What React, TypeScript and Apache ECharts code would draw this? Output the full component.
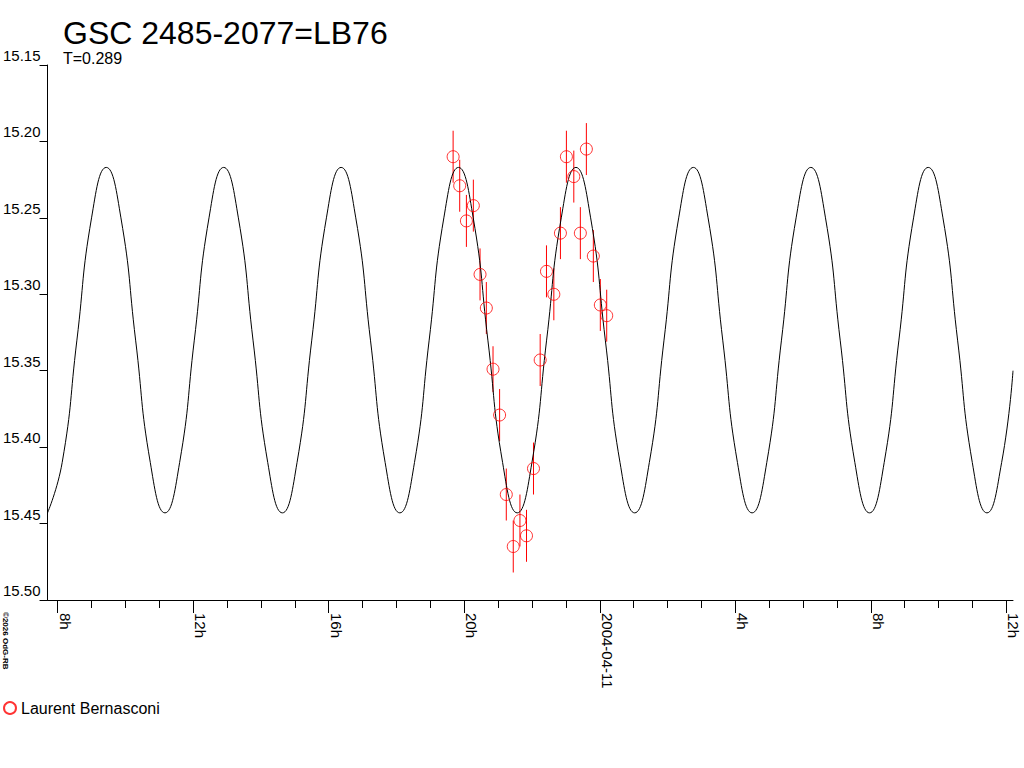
import React, { useEffect, useRef } from "react";
import * as echarts from "echarts";

// Model light curve (hours since 2004-04-10 00:00, magnitude)
const curveHours = [
  7.625, 8.059, 8.494, 8.928, 9.363, 9.797, 10.232, 10.666,
  11.101, 11.535, 11.969, 12.404, 12.838, 13.273, 13.707, 14.142,
  14.576, 15.010, 15.445, 15.879, 16.314, 16.748, 17.183, 17.617,
  18.052, 18.486, 18.920, 19.355, 19.789, 20.224, 20.658, 21.093,
  21.527, 21.962, 22.396, 22.830, 23.265, 23.699, 24.134, 24.568,
  25.003, 25.437, 25.871, 26.306, 26.740, 27.175, 27.609, 28.044,
  28.478, 28.913, 29.347, 29.781, 30.216, 30.650, 31.085, 31.519,
  31.954, 32.388, 32.823, 33.257, 33.691, 34.126, 34.560, 34.995,
  35.429, 35.864, 36.2,
];
const curveMags = [
  15.443, 15.41, 15.33, 15.25, 15.217, 15.25, 15.33, 15.41,
  15.443, 15.41, 15.33, 15.25, 15.217, 15.25, 15.33, 15.41,
  15.443, 15.41, 15.33, 15.25, 15.217, 15.25, 15.33, 15.41,
  15.443, 15.41, 15.33, 15.25, 15.217, 15.25, 15.33, 15.41,
  15.443, 15.41, 15.33, 15.25, 15.217, 15.25, 15.33, 15.41,
  15.443, 15.41, 15.33, 15.25, 15.217, 15.25, 15.33, 15.41,
  15.443, 15.41, 15.33, 15.25, 15.217, 15.25, 15.33, 15.41,
  15.443, 15.41, 15.33, 15.25, 15.217, 15.25, 15.33, 15.41,
  15.443, 15.41, 15.35,
];

// Observations (Laurent Bernasconi)
const obsHours = [
  19.629, 19.824, 20.022, 20.228, 20.426, 20.612, 20.81, 21.005,
  21.203, 21.409, 21.607, 21.801, 22.008, 22.206, 22.392, 22.61,
  22.805, 22.982, 23.201, 23.395, 23.573, 23.779, 23.986, 24.175,
];
const obsMags = [
  15.21, 15.229, 15.252, 15.242, 15.287, 15.309, 15.349, 15.379,
  15.431, 15.465, 15.448, 15.458, 15.414, 15.343, 15.285, 15.3,
  15.26, 15.21, 15.223, 15.26, 15.205, 15.275, 15.307, 15.314,
];
const obsErrs = [
  0.017, 0.017, 0.017, 0.017, 0.017, 0.017, 0.015, 0.017,
  0.017, 0.017, 0.017, 0.017, 0.017, 0.017, 0.017, 0.017,
  0.017, 0.017, 0.017, 0.017, 0.017, 0.017, 0.017, 0.017,
];

const xTickValues = [8, 12, 16, 20, 24, 28, 32, 36];
const xTickLabels = ["8h", "12h", "16h", "20h", "2004-04-11", "4h", "8h", "12h"];

const observerName = "Laurent Bernasconi";
const titleText = "GSC 2485-2077=LB76";
const subtitleText = "T=0.289";
const copyrightText = "©2026 OdG-RB";

const FONT = "'Liberation Sans', Arial, sans-serif";

export default function App() {
  const ref = useRef<HTMLDivElement>(null);

  useEffect(() => {
    if (!ref.current) return;
    const chart = echarts.init(ref.current, undefined, { renderer: "svg" });

    const curveData = curveHours.map((h, i) => [h, curveMags[i]]);
    const obsData = obsHours.map((h, i) => [h, obsMags[i]]);
    const errData = obsHours.map((h, i) => [h, obsMags[i], obsErrs[i]]);

    chart.setOption({
      animation: false,
      backgroundColor: "#ffffff",
      textStyle: { fontFamily: FONT },
      title: [
        {
          text: titleText,
          left: 63,
          top: 17,
          padding: 0,
          textStyle: {
            fontSize: 32,
            lineHeight: 32,
            fontWeight: "normal",
            color: "#000",
            fontFamily: FONT,
          },
        },
        {
          text: subtitleText,
          left: 63,
          top: 50,
          padding: 0,
          textStyle: {
            fontSize: 16,
            lineHeight: 16,
            fontWeight: "normal",
            color: "#000",
            fontFamily: FONT,
          },
        },
      ],
      legend: {
        left: 3,
        top: 700,
        padding: 0,
        itemWidth: 12,
        itemHeight: 12,
        data: [{ name: observerName, icon: "circle" }],
        textStyle: { fontSize: 16, color: "#000", fontFamily: FONT },
      },
      grid: [
        { left: 45, top: 65, width: 968, height: 535, containLabel: false },
        { left: 57.7, top: 65, width: 948.6, height: 535, containLabel: false },
      ],
      xAxis: [
        {
          type: "value",
          gridIndex: 0,
          min: 7.625,
          max: 36.2,
          axisLine: { show: true, lineStyle: { color: "#000", width: 1 } },
          axisTick: { show: false },
          axisLabel: { show: false },
          splitLine: { show: false },
        },
        {
          type: "value",
          gridIndex: 1,
          min: 8,
          max: 36,
          interval: 4,
          axisLine: { show: false },
          axisTick: { show: true, length: 13, lineStyle: { color: "#000", width: 1 } },
          minorTick: { show: true, splitNumber: 4, length: 8, lineStyle: { color: "#000", width: 1 } },
          axisLabel: {
            show: true,
            rotate: -90,
            margin: 13,
            fontSize: 15,
            color: "#000",
            fontFamily: FONT,
            verticalAlign: "bottom",
            showMinLabel: true,
            showMaxLabel: true,
            formatter: (v: number) => {
              const idx = xTickValues.findIndex((t) => Math.abs(t - v) < 1e-6);
              return idx >= 0 ? xTickLabels[idx] : "";
            },
          },
          splitLine: { show: false },
          minorSplitLine: { show: false },
        },
      ],
      yAxis: [
        {
          type: "value",
          gridIndex: 0,
          inverse: true,
          min: 15.15,
          max: 15.5,
          interval: 0.05,
          axisLine: { show: true, lineStyle: { color: "#000", width: 1 } },
          axisTick: { show: true, length: 8, lineStyle: { color: "#000", width: 1 } },
          axisLabel: {
            show: true,
            margin: 7,
            fontSize: 15,
            color: "#000",
            fontFamily: FONT,
            verticalAlign: "bottom",
            padding: [0, 0, 2, 0],
            formatter: (v: number) => v.toFixed(2),
          },
          splitLine: { show: false },
        },
        {
          type: "value",
          gridIndex: 1,
          inverse: true,
          min: 15.15,
          max: 15.5,
          show: false,
        },
      ],
      graphic: [
        {
          type: "text",
          x: 1,
          y: 612,
          rotation: -Math.PI / 2,
          style: {
            text: copyrightText,
            fontSize: 8,
            fontWeight: "bold",
            fill: "#000",
            fontFamily: FONT,
            textVerticalAlign: "bottom",
          },
        },
      ],
      series: [
        {
          type: "custom",
          name: "errors",
          xAxisIndex: 0,
          yAxisIndex: 0,
          data: errData,
          encode: { x: 0, y: 1 },
          z: 2,
          renderItem: (params: any, api: any) => {
            const x = api.value(0);
            const m = api.value(1);
            const e = api.value(2);
            const p1 = api.coord([x, m - e]);
            const p2 = api.coord([x, m + e]);
            return {
              type: "line",
              shape: { x1: p1[0], y1: p1[1], x2: p2[0], y2: p2[1] },
              style: { stroke: "#ff0000", lineWidth: 1 },
            };
          },
        },
        {
          type: "line",
          name: "model",
          xAxisIndex: 0,
          yAxisIndex: 0,
          data: curveData,
          showSymbol: false,
          smooth: true,
          z: 3,
          lineStyle: { color: "#000", width: 1 },
          emphasis: { disabled: true },
        },
        {
          type: "scatter",
          name: observerName,
          xAxisIndex: 0,
          yAxisIndex: 0,
          data: obsData,
          symbol: "circle",
          symbolSize: 12,
          z: 4,
          itemStyle: { color: "rgba(255,255,255,0)", borderColor: "#ff0000", borderWidth: 1 },
        },
      ],
    });

    return () => chart.dispose();
  }, []);

  return (
    <div
      ref={ref}
      style={{ position: "absolute", left: 0, top: 0, width: 1024, height: 768 }}
    />
  );
}
